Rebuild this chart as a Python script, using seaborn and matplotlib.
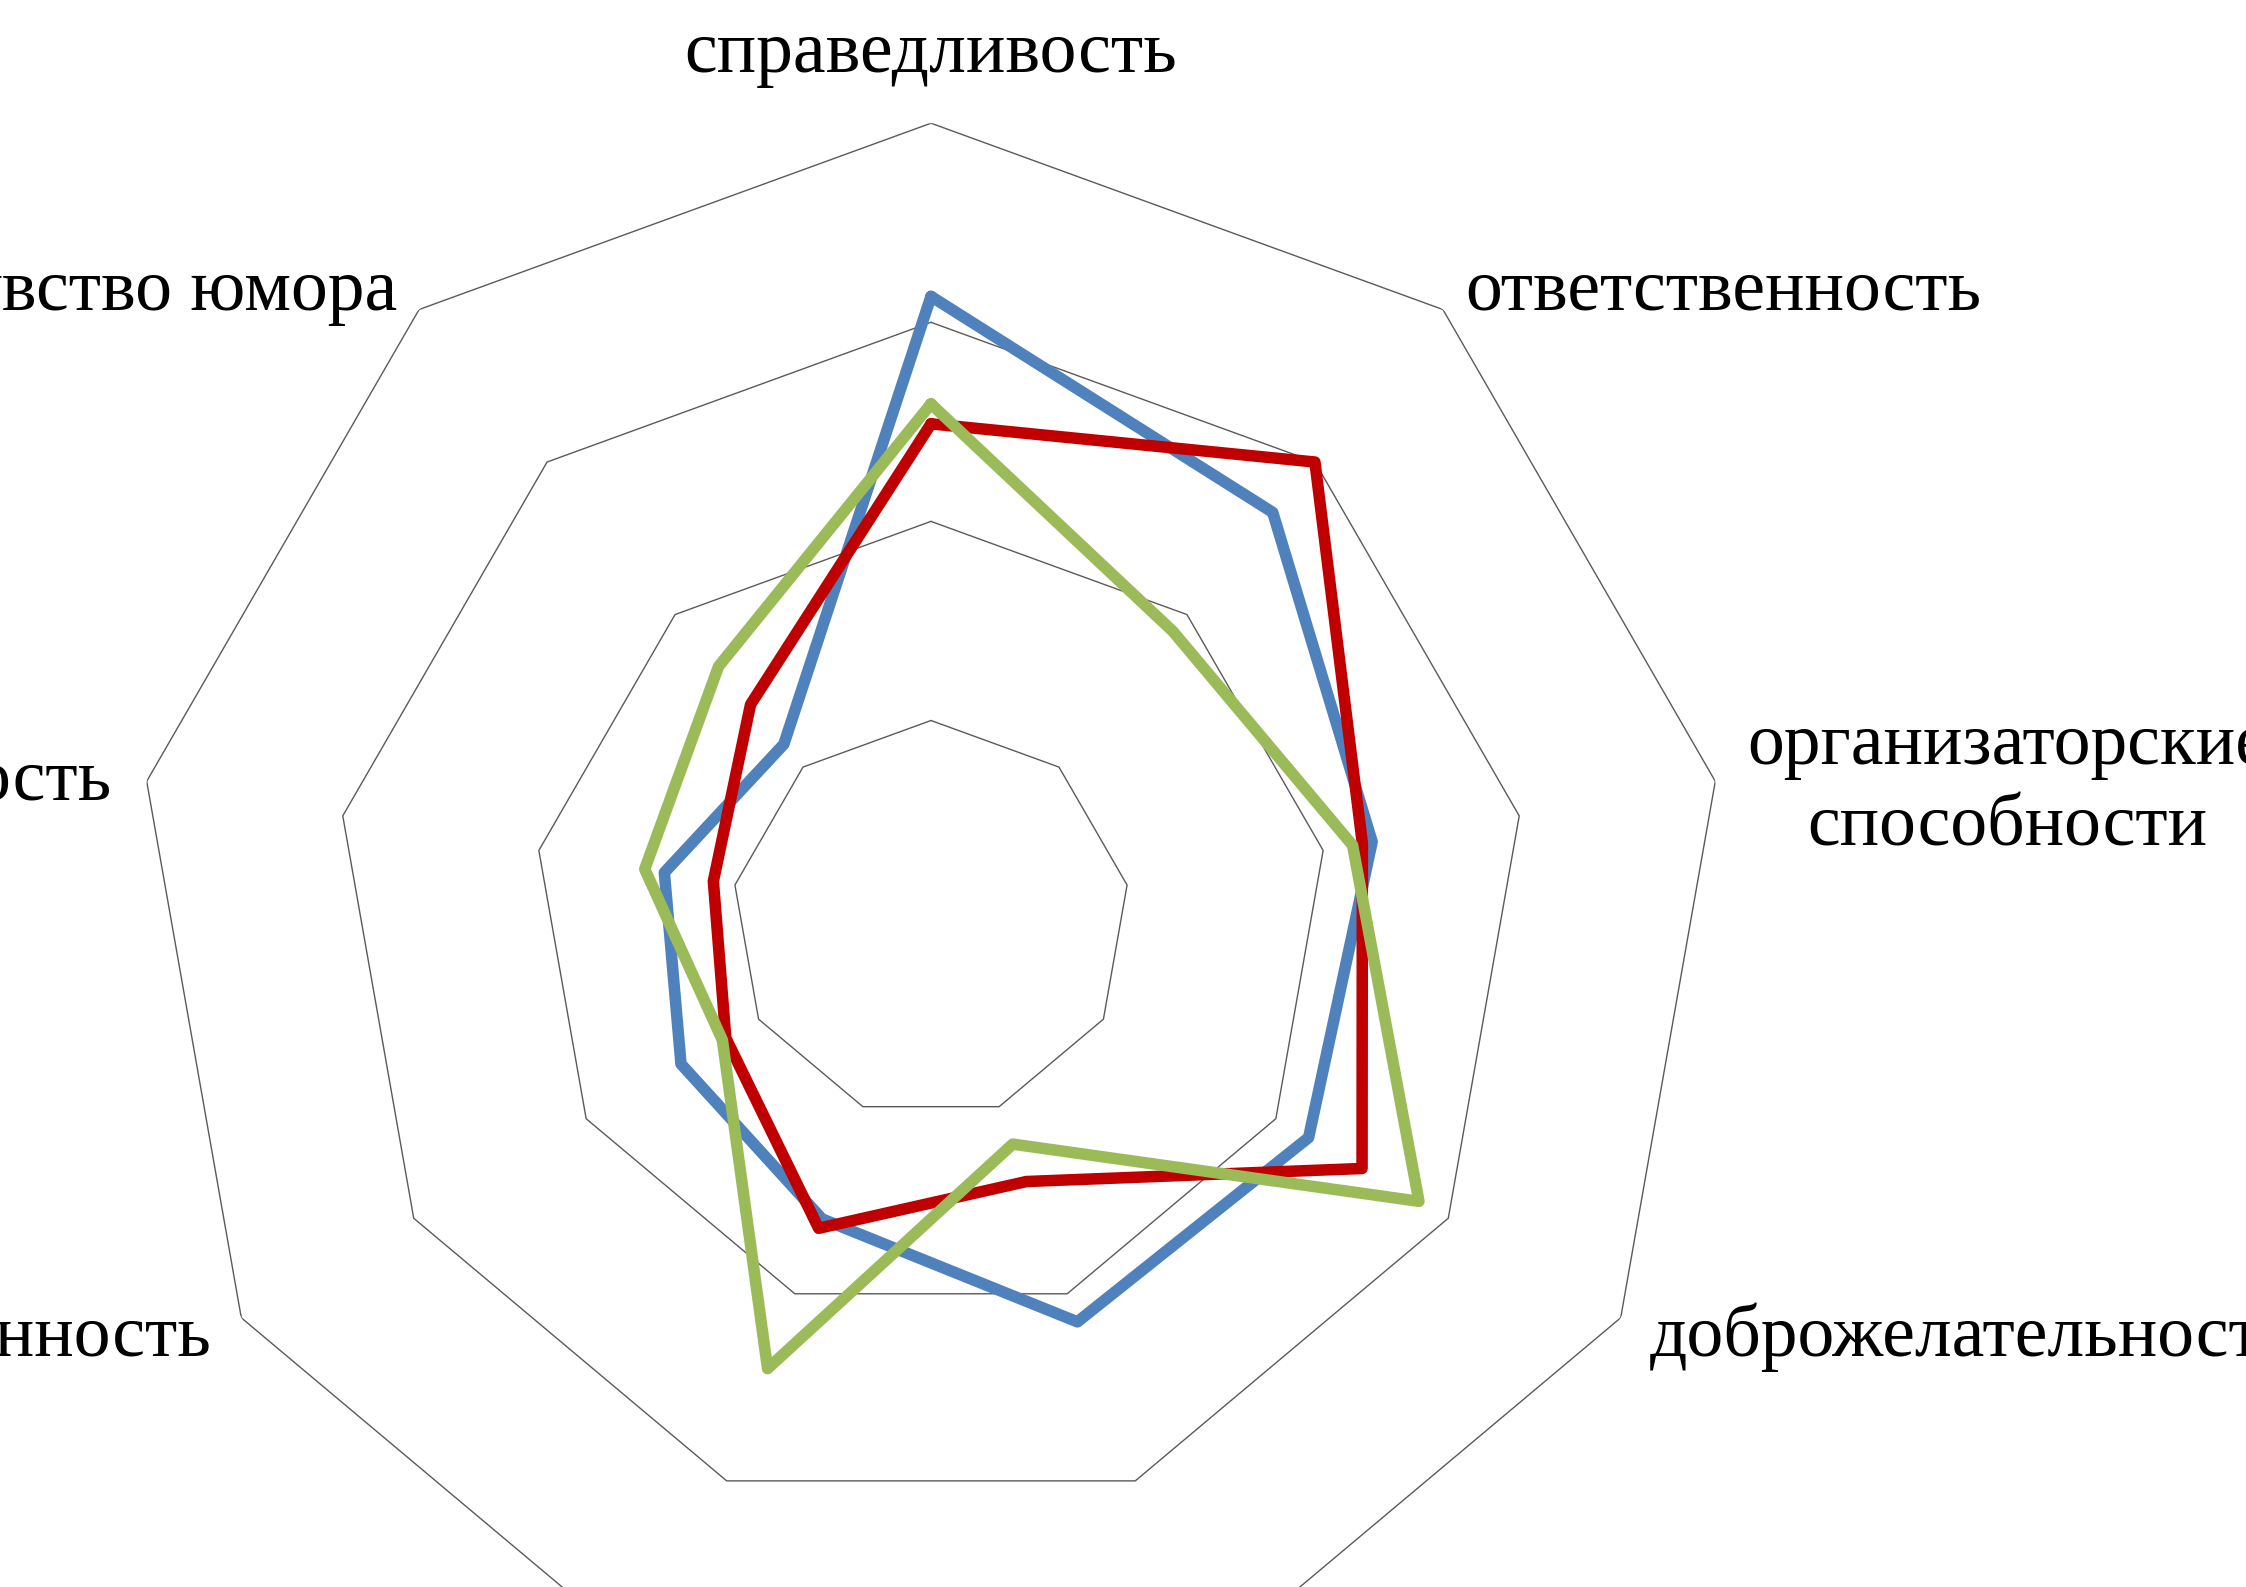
import numpy as np
import pandas as pd
import matplotlib
matplotlib.use("Agg")
import matplotlib.pyplot as plt
import seaborn as sns

# DATA

categories = [
    "справедливость",
    "ответственность",
    "организаторские\nспособности",
    "доброжелательность",
    "терпеливость",
    "компетентность",
    "образованность",
    "общительность",
    "чувство юмора",
]
series_names = ["Серия 1", "Серия 2", "Серия 3"]
series1 = [3.13, 2.67, 2.25, 2.19, 2.15, 1.60, 1.45, 1.36, 1.15]
series2 = [2.49, 3.00, 2.20, 2.50, 1.40, 1.65, 1.19, 1.11, 1.41]
series3 = [2.59, 1.89, 2.15, 2.83, 1.20, 2.40, 1.21, 1.46, 1.66]
ring_levels = [1, 2, 3, 4]

# STYLE / LAYOUT

colors = ["#4F81BD", "#C00000", "#9BBB59"]
# label offset from the outer ring vertex, in pixels, and alignment
# (for multi-line labels the offset is to the last line's baseline)
label_layout = [
    (0, 51, "center"),
    (22, 0, "left"),
    (32, -64, "left"),
    (29, -38, "left"),
    (29, -50, "left"),
    (-29, -50, "right"),
    (-30, -38, "right"),
    (-35, -19, "right"),
    (-22, 0, "right"),
]

sns.set_theme(style="white")
plt.rcParams["font.family"] = ["Liberation Serif", "DejaVu Serif"]

n = len(categories)
angles = np.linspace(0, 2 * np.pi, n, endpoint=False)
closed_angles = np.append(angles, angles[0])

rows = []
for name, vals in zip(series_names, [series1, series2, series3]):
    closed_vals = list(vals) + [vals[0]]
    for i, (a, v) in enumerate(zip(closed_angles, closed_vals)):
        rows.append({"series": name, "angle": a, "value": v, "step": i})
df = pd.DataFrame(rows)

W, H = 2246, 1587
fig = plt.figure(figsize=(W / 100, H / 100), dpi=100)
fig.patch.set_facecolor("white")

# chart centre (931, 920) px from top-left, outer ring radius ~796 px
cx, cy, R = 931, 919.6, 796.4
ax = fig.add_axes([(cx - R) / W, (H - cy - R) / H, 2 * R / W, 2 * R / H],
                  projection="polar")
ax.set_theta_zero_location("N")
ax.set_theta_direction(-1)
ax.set_ylim(0, max(ring_levels))
ax.grid(False)
ax.set_xticks([])
ax.set_yticks([])
ax.spines["polar"].set_visible(False)
ax.patch.set_alpha(0)

# polygon grid rings
for lvl in ring_levels:
    ax.plot(closed_angles, [lvl] * len(closed_angles),
            color="#5a5a5a", lw=1.0, zorder=1)

sns.lineplot(
    data=df,
    x="angle",
    y="value",
    hue="series",
    palette=colors,
    sort=False,
    estimator=None,
    linewidth=8.3,
    legend=False,
    ax=ax,
    zorder=3,
)
for line in ax.lines[len(ring_levels):]:
    line.set_solid_joinstyle("round")
    line.set_solid_capstyle("round")

ax.set_xlabel("")
ax.set_ylabel("")

for a, label, (dx, dy, ha) in zip(angles, categories, label_layout):
    ax.annotate(
        label,
        xy=(a, max(ring_levels)),
        xytext=(dx, dy),
        textcoords="offset pixels",
        ha=ha,
        va="baseline",
        multialignment="center",
        fontsize=53,
        color="black",
        annotation_clip=False,
        linespacing=1.26,
    )

fig.savefig("out.png", dpi=100, facecolor="white")
